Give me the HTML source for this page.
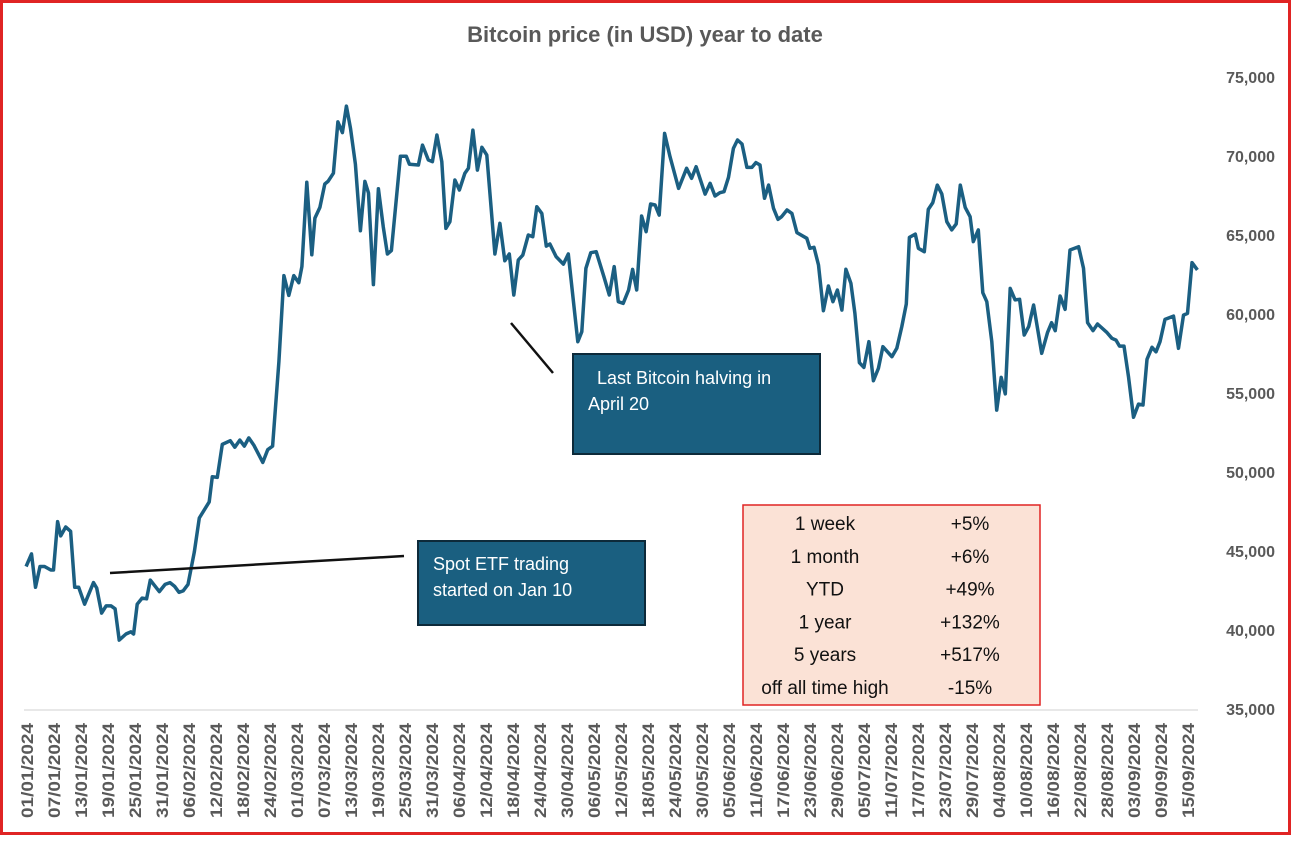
<!DOCTYPE html>
<html><head><meta charset="utf-8"><style>
html,body{margin:0;padding:0;background:#fff;}
body{width:1292px;height:837px;overflow:hidden;font-family:"Liberation Sans",sans-serif;}
</style></head><body>
<svg id="chart" width="1292" height="837" xmlns="http://www.w3.org/2000/svg">
<rect x="1.5" y="1.5" width="1288" height="832" fill="#fff" stroke="#e02424" stroke-width="3"/>
<text x="645" y="42" text-anchor="middle" font-size="22" font-weight="bold" fill="#595959">Bitcoin price (in USD) year to date</text>
<line x1="24" y1="710" x2="1198" y2="710" stroke="#d0d0d0" stroke-width="1"/>
<g id="yticks"></g>
<g id="xticks"></g>
<path id="price-line" fill="none" stroke="#1b5f82" stroke-width="3.5" stroke-linejoin="round"/>
<line x1="511" y1="323" x2="553" y2="373" stroke="#111" stroke-width="2.5"/>
<g>
<rect x="573" y="354" width="247" height="100" fill="#1a5f80" stroke="#0d2a3a" stroke-width="2"/>
<text x="597" y="384" font-size="18" fill="#fff">Last Bitcoin halving in</text>
<text x="588" y="410" font-size="18" fill="#fff">April 20</text>
</g>
<line x1="110" y1="573" x2="404" y2="556" stroke="#111" stroke-width="2.5"/>
<g>
<rect x="418" y="541" width="227" height="84" fill="#1a5f80" stroke="#0d2a3a" stroke-width="2"/>
<text x="433" y="570" font-size="18" fill="#fff">Spot ETF trading</text>
<text x="433" y="596" font-size="18" fill="#fff">started on Jan 10</text>
</g>
<g>
<rect x="743" y="505" width="297" height="200" fill="#fbe2d6" stroke="#e02424" stroke-width="1.5"/>
<g id="table-rows" font-size="19" fill="#111" text-anchor="middle"></g>
</g>
</svg>
<script>
const yTicks=[35000,40000,45000,50000,55000,60000,65000,70000,75000];
const xTickDays=[];for(let d=0;d<=258;d+=6)xTickDays.push(d);
const tableLabels=["1 week","1 month","YTD","1 year","5 years","off all time high"];
const tableValues=["+5%","+6%","+49%","+132%","+517%","-15%"];
const days=[0.9,2.1,3.0,4.0,5.0,6.4,7.0,7.9,8.6,9.7,10.8,11.7,12.6,13.9,15.9,16.6,17.7,18.7,19.8,20.7,21.6,23.1,24.2,24.8,25.6,26.7,27.7,28.5,30.5,31.8,32.9,33.9,34.9,35.8,36.9,38.3,39.4,41.6,42.3,43.4,44.5,46.3,47.3,48.4,49.4,50.4,51.5,53.5,54.6,55.7,57.1,58.2,59.3,60.4,61.5,62.2,63.3,64.4,65.1,66.2,67.3,68.0,69.2,70.2,71.2,72.1,73.0,74.1,75.2,76.2,77.0,78.1,79.2,80.3,81.2,82.1,84.1,85.4,86.1,88.1,89.0,90.3,91.2,92.2,93.3,94.2,95.1,96.2,97.2,98.4,99.2,100.2,101.2,102.2,103.3,105.1,106.2,107.3,108.3,109.3,110.3,111.3,112.5,113.5,114.4,115.5,116.5,117.3,118.7,120.3,121.4,123.5,124.4,125.3,126.4,127.6,129.3,130.5,131.6,132.5,133.6,134.8,135.7,136.6,137.7,138.7,139.7,140.7,141.6,142.8,144.0,145.9,147.7,148.8,149.8,151.8,152.9,154.0,155.1,156.0,157.0,158.1,159.0,160.0,161.1,162.2,163.1,164.0,165.0,165.9,167.0,168.0,168.8,170.0,171.1,172.2,174.4,175.1,176.0,177.0,178.1,179.2,180.2,181.2,182.2,183.1,184.2,185.1,186.1,187.1,188.2,189.2,190.3,191.3,193.3,194.4,195.5,196.5,197.2,198.5,199.2,200.5,201.4,202.4,203.4,204.4,205.5,206.6,207.6,208.5,209.6,210.7,211.4,212.5,213.5,214.4,215.5,216.6,217.6,218.5,219.6,220.7,221.7,222.7,223.7,224.8,226.6,227.9,228.8,229.6,230.7,231.8,232.9,234.8,235.9,236.8,238.0,239.0,241.1,242.2,243.1,243.9,244.9,245.9,247.0,248.1,249.1,250.0,251.1,252.0,252.9,254.0,255.9,257.0,258.1,259.0,260.0,261.2];
const prices=[44020,44818,42705,44020,44020,43795,43795,46863,45954,46522,46250,42705,42705,41636,43000,42660,41068,41523,41523,41340,39360,39750,39886,39750,41636,42022,41977,43160,42430,42886,43000,42772,42386,42476,42886,44930,47090,48110,49700,49660,51750,51980,51570,52020,51640,52160,51700,50610,51410,51640,56980,62430,61180,62430,61980,63000,68340,63750,66070,66750,68230,68390,68910,72160,71480,73160,71750,69480,65270,68390,67660,61860,67930,65500,63800,64020,69980,69980,69480,69430,70690,69750,69640,71330,69640,65420,65840,68480,67850,68900,69220,71640,69110,70550,70060,63800,65740,63370,63800,61200,63420,63730,65000,64890,66790,66370,64300,64430,63630,63160,63800,58250,58880,62890,63880,63940,62360,61200,63000,60780,60670,61520,62820,61520,66200,65210,66960,66900,66260,71430,69960,67950,69220,68590,69320,67590,68270,67470,67680,67740,68650,70480,71010,70760,69280,69280,69580,69430,67320,68160,66690,65990,66160,66580,66370,65150,64790,64160,64220,63100,60210,61770,60780,61520,60250,62830,61940,60040,56920,56620,58250,55780,56560,57930,57300,57830,59200,60630,64850,65060,64160,63940,66620,67050,68160,67600,65840,65320,65700,68160,66750,66160,64580,65320,61350,60780,58250,53920,55990,54940,61620,60890,60930,58670,59200,60570,57510,58820,59450,58940,61140,60290,64050,64260,62890,59450,58940,59370,58820,58460,58350,57970,57970,56030,53460,54300,54240,57130,57890,57610,58250,59660,59870,57830,59930,60040,63250,62790];

const NS="http://www.w3.org/2000/svg";
function xScale(d){return 22+d*4.5;}
function yScale(v){return 77+(75000-v)*(632/40000);}
function fmt(n){return n.toString().replace(/\B(?=(\d{3})+(?!\d))/g,",");}
function dateLabel(d){const dt=new Date(Date.UTC(2024,0,1+d));return String(dt.getUTCDate()).padStart(2,"0")+"/"+String(dt.getUTCMonth()+1).padStart(2,"0")+"/2024";}

const yg=document.getElementById("yticks");
yTicks.forEach(v=>{const t=document.createElementNS(NS,"text");


t.setAttribute("x",1275);t.setAttribute("y",yScale(v)+6);t.setAttribute("text-anchor","end");
t.setAttribute("font-size","16");t.setAttribute("font-weight","bold");t.setAttribute("fill","#595959");
t.textContent=fmt(v);yg.appendChild(t);});

const xg=document.getElementById("xticks");
xTickDays.forEach(d=>{const t=document.createElementNS(NS,"text");


const x=xScale(d)+11,y=723;
t.setAttribute("transform","translate("+x+","+y+") rotate(-90)");
t.setAttribute("text-anchor","end");t.setAttribute("font-size","17");t.setAttribute("font-weight","bold");t.setAttribute("fill","#595959");
t.setAttribute("textLength","95");t.setAttribute("lengthAdjust","spacingAndGlyphs");
t.textContent=dateLabel(d);xg.appendChild(t);});

let dstr="";days.forEach((d,i)=>{dstr+=(i?"L":"M")+xScale(d).toFixed(1)+" "+yScale(prices[i]).toFixed(1);});
document.getElementById("price-line").setAttribute("d",dstr);

const tg=document.getElementById("table-rows");
tableLabels.forEach((lab,i)=>{const cy=530+i*32.8;
const a=document.createElementNS(NS,"text");


a.setAttribute("x",825);a.setAttribute("y",cy);a.textContent=lab;tg.appendChild(a);
const b=document.createElementNS(NS,"text");


b.setAttribute("x",970);b.setAttribute("y",cy);b.textContent=tableValues[i];tg.appendChild(b);});
</script>
</body></html>
